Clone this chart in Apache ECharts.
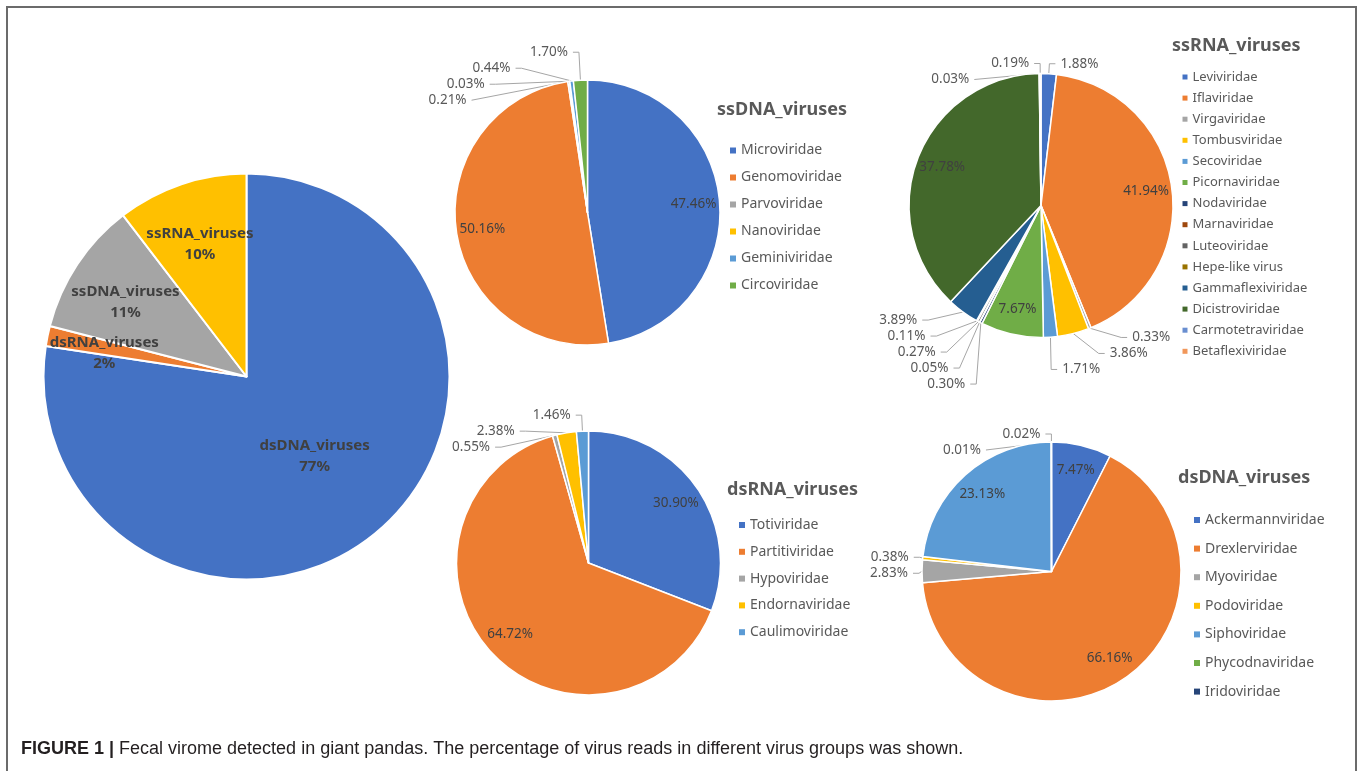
<!DOCTYPE html>
<html>
<head>
<meta charset="utf-8">
<title>Fecal virome detected in giant pandas</title>
<script src="https://cdn.jsdelivr.net/npm/echarts@6/dist/echarts.min.js"></script>
<style>
  html, body { margin: 0; padding: 0; background: #fff; }
  #chart { width: 1362px; height: 771px; }
</style>
</head>
<body>
<div id="chart"></div>
<script>
// share of virus reads per group (big pie)
var groupNames = ['dsDNA_viruses', 'dsRNA_viruses', 'ssDNA_viruses', 'ssRNA_viruses'];
var groupValues = [77.4, 1.6, 10.6, 10.4];

// families inside each group, percent of the group reads
var ssdnaNames = ['Microviridae', 'Genomoviridae', 'Parvoviridae', 'Nanoviridae', 'Geminiviridae', 'Circoviridae'];
var ssdnaValues = [47.46, 50.16, 0.21, 0.03, 0.44, 1.70];

var ssrnaNames = ['Leviviridae', 'Iflaviridae', 'Virgaviridae', 'Tombusviridae', 'Secoviridae', 'Picornaviridae',
  'Nodaviridae', 'Marnaviridae', 'Luteoviridae', 'Hepe-like virus', 'Gammaflexiviridae', 'Dicistroviridae',
  'Carmotetraviridae', 'Betaflexiviridae'];
var ssrnaValues = [1.88, 41.94, 0.33, 3.86, 1.71, 7.67, 0.30, 0.05, 0.27, 0.11, 3.89, 37.78, 0.03, 0.19];

var dsrnaNames = ['Totiviridae', 'Partitiviridae', 'Hypoviridae', 'Endornaviridae', 'Caulimoviridae'];
var dsrnaValues = [30.90, 64.72, 0.55, 2.38, 1.46];

var dsdnaNames = ['Ackermannviridae', 'Drexlerviridae', 'Myoviridae', 'Podoviridae', 'Siphoviridae',
  'Phycodnaviridae', 'Iridoviridae'];
var dsdnaValues = [7.47, 66.16, 2.83, 0.38, 23.13, 0.01, 0.02];

// excel office palette, every pie restarts at the first colour
var officeColors = ['#4472C4', '#ED7D31', '#A5A5A5', '#FFC000', '#5B9BD5', '#70AD47', '#264478',
  '#9E480E', '#636363', '#997300', '#255E91', '#43682B', '#698ED0', '#F1975A'];

var FONT = 'Noto Sans';

function pct(p) {
  return p.value.toFixed(2) + '%';
}

// one family pie = real sectors (small slices labelled outside)
// + an empty wider pie that only carries the big-slice labels, so they sit near the rim like excel
function familyPie(names, values, center, r, lineLen) {
  var main = {
    type: 'pie',
    center: center,
    radius: r,
    startAngle: 90,
    clockwise: true,
    emphasis: { scale: false },
    itemStyle: { borderColor: '#fff', borderWidth: 1.5 },
    label: {
      position: 'outside',
      formatter: pct,
      color: '#595959',
      fontSize: 13.5,
      fontFamily: FONT
    },
    labelLine: {
      length: lineLen,
      length2: 6,
      lineStyle: { color: '#a6a6a6', width: 1 }
    },
    data: names.map(function (n, i) {
      var small = values[i] < 5;
      return {
        name: n,
        value: values[i],
        itemStyle: { color: officeColors[i] },
        label: { show: small },
        labelLine: { show: small }
      };
    })
  };
  var labels = {
    type: 'pie',
    center: center,
    radius: r * 1.56,
    startAngle: 90,
    clockwise: true,
    silent: true,
    itemStyle: { color: 'rgba(0,0,0,0)', borderWidth: 0 },
    label: {
      position: 'inside',
      formatter: pct,
      color: '#404040',
      fontSize: 13.5,
      fontFamily: FONT
    },
    labelLine: { show: false },
    data: names.map(function (n, i) {
      return { name: n, value: values[i], label: { show: values[i] >= 5 } };
    })
  };
  return [main, labels];
}

var groupLabel = {
  formatter: '{b}\n{d}%',
  color: '#404040',
  fontSize: 15,
  fontWeight: 'bold',
  lineHeight: 21,
  fontFamily: FONT
};

var series = [
  {
    type: 'pie',
    center: [246.5, 376.5],
    radius: 203,
    startAngle: 90,
    percentPrecision: 0,
    emphasis: { scale: false },
    itemStyle: { borderColor: '#fff', borderWidth: 2 },
    label: Object.assign({ position: 'inside' }, groupLabel),
    labelLine: { show: false },
    data: groupNames.map(function (n, i) {
      return {
        name: n,
        value: groupValues[i],
        itemStyle: { color: officeColors[i] },
        label: { show: groupValues[i] > 50 }
      };
    })
  },
  {
    type: 'pie',
    center: [246.5, 382],
    radius: 203 * 1.4,
    startAngle: 90,
    percentPrecision: 0,
    silent: true,
    itemStyle: { color: 'rgba(0,0,0,0)', borderWidth: 0 },
    label: Object.assign({ position: 'inside' }, groupLabel),
    labelLine: { show: false },
    data: groupNames.map(function (n, i) {
      return { name: n, value: groupValues[i], label: { show: groupValues[i] <= 50 } };
    })
  }
]
  .concat(familyPie(ssdnaNames, ssdnaValues, [587.5, 212.5], 132.5, 28))
  .concat(familyPie(ssrnaNames, ssrnaValues, [1041, 205.5], 132, 10))
  .concat(familyPie(dsrnaNames, dsrnaValues, [588.5, 563], 132, 16))
  .concat(familyPie(dsdnaNames, dsdnaValues, [1051.5, 571.5], 129.5, 8));

function legendAt(names, left, top, gap, size, mark) {
  return {
    data: names,
    orient: 'vertical',
    left: left,
    top: top,
    padding: 0,
    itemGap: gap,
    itemWidth: mark,
    itemHeight: mark,
    icon: 'rect',
    selectedMode: false,
    itemStyle: { borderWidth: 0 },
    textStyle: { color: '#595959', fontSize: size, fontFamily: FONT }
  };
}

function groupTitle(text, left, top) {
  return {
    text: text,
    left: left,
    top: top,
    padding: 0,
    textStyle: { color: '#595959', fontSize: 18, fontWeight: 'bold', fontFamily: FONT }
  };
}

var chart = echarts.init(document.getElementById('chart'));
chart.setOption({
  animation: false,
  backgroundColor: '#fff',
  color: officeColors,
  textStyle: { fontFamily: FONT },
  title: [
    groupTitle('ssDNA_viruses', 717, 101),
    groupTitle('ssRNA_viruses', 1172, 37),
    groupTitle('dsRNA_viruses', 727, 481),
    groupTitle('dsDNA_viruses', 1178, 469),
    {
      text: '{b|FIGURE 1 |} Fecal virome detected in giant pandas. The percentage of virus reads in different virus groups was shown.',
      left: 21,
      top: 740,
      padding: 0,
      textStyle: {
        color: '#231f20',
        fontSize: 18,
        fontWeight: 'normal',
        fontFamily: 'Liberation Sans',
        rich: {
          b: { fontWeight: 'bold', fontSize: 18, color: '#231f20', fontFamily: 'Liberation Sans' }
        }
      }
    }
  ],
  legend: [
    legendAt(ssdnaNames, 730, 143.5, 13, 14, 6),
    legendAt(ssrnaNames, 1182.5, 70.5, 8.1, 13, 5),
    legendAt(dsrnaNames, 739, 518, 12.8, 14, 6),
    legendAt(dsdnaNames, 1194, 513, 14.6, 14, 6)
  ],
  graphic: [
    {
      type: 'polyline',
      silent: true,
      shape: { points: [[7, 771], [7, 7], [1356, 7], [1356, 771]] },
      style: { stroke: '#6b6b6b', lineWidth: 2, fill: null }
    }
  ],
  series: series
});
</script>
</body>
</html>
